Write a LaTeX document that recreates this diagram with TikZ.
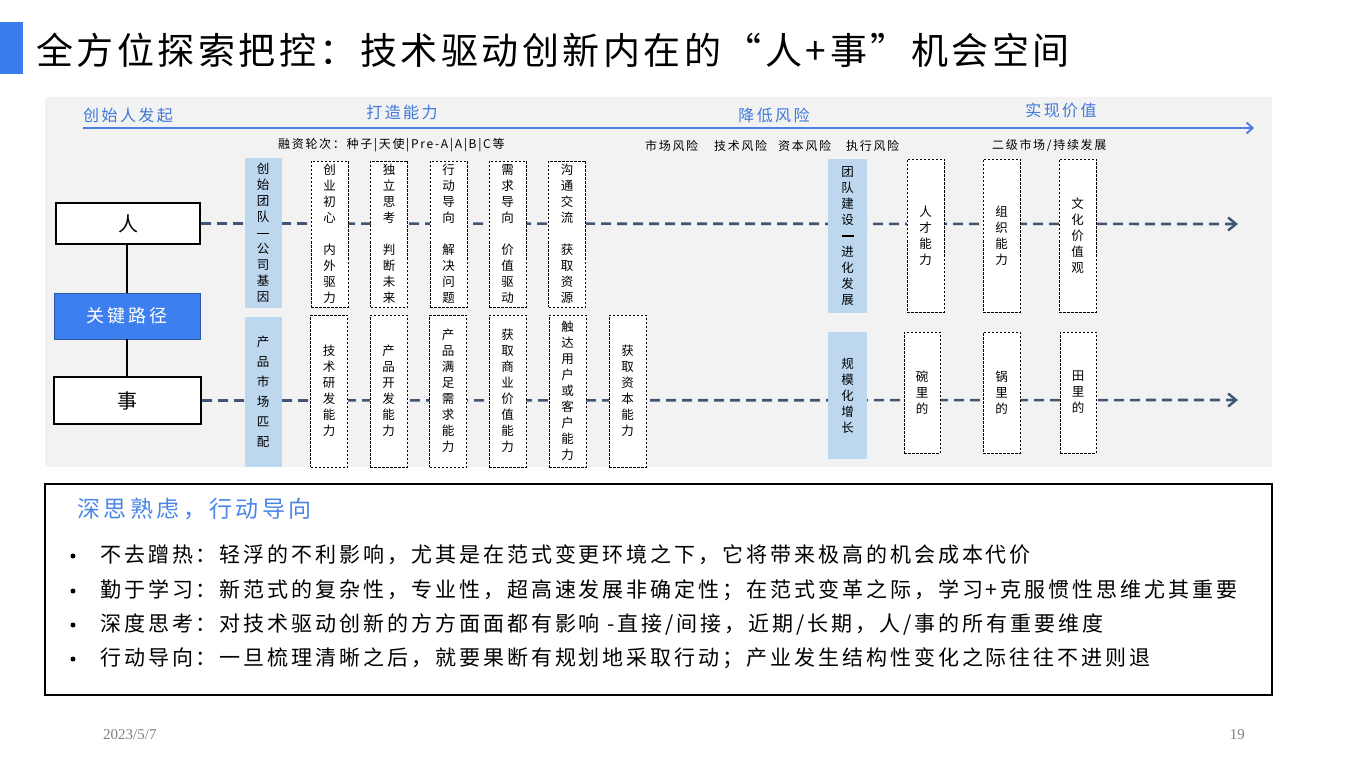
\documentclass[tikz,border=0pt]{standalone}
\usepackage{fontspec}
\setmainfont{Noto Sans CJK SC}
\newfontfamily\cjk{Noto Sans CJK SC}
\newfontfamily\cjkt[LetterSpace=9.5]{Noto Sans CJK SC}
\newfontfamily\cjka[LetterSpace=14]{Noto Sans CJK SC}
\newfontfamily\cjkb[LetterSpace=15]{Noto Sans CJK SC}
\newfontfamily\cjkc[LetterSpace=14]{Noto Sans CJK SC}
\newfontfamily\footfont{Liberation Serif}
\usetikzlibrary{arrows.meta}
\definecolor{barblue}{HTML}{3B7DED}
\definecolor{keyblue}{HTML}{3D7FEF}
\definecolor{tlblue}{HTML}{4A7FE0}
\definecolor{lblblue}{HTML}{3E78DA}
\definecolor{panelgray}{HTML}{F2F2F2}
\definecolor{colblue}{HTML}{BDD7EE}
\definecolor{dashcol}{HTML}{3F5573}
\definecolor{subblue}{HTML}{4A86E8}
\definecolor{footgray}{HTML}{808080}
\newcommand{\mydashbar}{\rule[3.5pt]{12pt}{1.6pt}}
\tikzset{
  vtext/.style={font=\cjk\fontsize{12.5}{16}\selectfont, align=center, inner sep=0pt},
  colbox/.style={vtext, fill=colblue, draw=none, minimum width=37pt},
  dbox/.style={vtext, fill=white, draw=black, line width=0.8pt, dash pattern=on 2.5pt off 1.5pt, minimum width=37pt},
  mainbox/.style={draw=black, line width=2.4pt, fill=white, inner sep=0pt, font=\cjk\fontsize{20}{22}\selectfont},
  dline/.style={draw=dashcol, line width=2.6pt, dash pattern=on 10pt off 6pt, -{Straight Barb[length=8pt,width=13pt,line width=2.4pt]}},
  tline/.style={draw=tlblue, line width=2.4pt, -{Straight Barb[length=6pt,width=11pt,line width=2pt]}},
  tlabel/.style={text=lblblue, font=\cjkb\fontsize{16}{18}\selectfont, inner sep=0pt},
  slabel/.style={font=\cjka\fontsize{12}{14}\selectfont, inner sep=0pt, anchor=west},
  btext/.style={font=\cjkc\fontsize{21}{24}\selectfont, inner sep=0pt, anchor=west},
  bul/.style={circle, fill=black, inner sep=0pt, minimum size=5pt},
}
\begin{document}
\begin{tikzpicture}[x=1pt,y=-1pt]
\useasboundingbox (0,0) rectangle (1348,759);
\fill[white] (0,0) rectangle (1348,759);
% title
\fill[barblue] (0,22) rectangle (23,74);
\node[anchor=west, inner sep=0pt, font=\cjkt\fontsize{37}{40}\selectfont] (title) at (36,50) {全方位探索把控：技术驱动创新内在的“人+事”机会空间};
% panel
\fill[panelgray] (45,97) rectangle (1272,467);
% timeline
\coordinate (tl0) at (83,128);
\coordinate (tl1) at (1254,128);
\draw[tline] (tl0) -- (tl1);
\node[tlabel, anchor=west] (l1) at (83,115) {创始人发起};
\node[tlabel] (l2) at (402,112) {打造能力};
\node[tlabel] (l3) at (774,115) {降低风险};
\node[tlabel] (l4) at (1061,110) {实现价值};
% small labels
\node[slabel] (s1) at (278,145) {融资轮次：种子|天使|Pre-A|A|B|C等};
\node[slabel] (s2) at (645,146) {市场风险};
\node[slabel] (s3) at (714,146) {技术风险};
\node[slabel] (s4) at (778,146) {资本风险};
\node[slabel] (s5) at (846,146) {执行风险};
\node[slabel] (s6) at (992,145) {二级市场/持续发展};
% left boxes
\node[mainbox, minimum width=144pt, minimum height=41pt] (ren) at (128,223.5) {人};
\node[draw=keyblue!70!black, line width=0.6pt, fill=keyblue, text=white, inner sep=0pt, minimum width=146pt, minimum height=46pt, font=\cjkb\fontsize{18}{20}\selectfont] (key) at (127,316) {关键路径};
\node[mainbox, minimum width=147pt, minimum height=47pt] (shi) at (127.5,400.5) {事};
\draw[line width=2.4pt] (key.north) -- (key.north |- ren.south);
\draw[line width=2.4pt] (key.south) -- (key.south |- shi.north);
% dashed flow lines
\coordinate (renend) at (1238,224);
\coordinate (shiend) at (1238,400);
\draw[dline] (ren.east) -- (renend);
\draw[dline] (shi.east) -- (shiend);
% left columns
\node[colbox, minimum height=150pt] (ca) at (263,233) {创\\始\\团\\队\\\mydashbar\\公\\司\\基\\因};
\node[colbox, minimum height=150pt, font=\cjk\fontsize{12.5}{20}\selectfont] (cb) at (263,392) {产\\品\\市\\场\\匹\\配};
% top row dashed boxes
\node[dbox, minimum height=146pt] (t1) at (329.5,234) {创\\业\\初\\心\\[16pt]内\\外\\驱\\力};
\node[dbox, minimum height=146pt] (t2) at (389,234) {独\\立\\思\\考\\[16pt]判\\断\\未\\来};
\node[dbox, minimum height=146pt] (t3) at (448.5,234) {行\\动\\导\\向\\[16pt]解\\决\\问\\题};
\node[dbox, minimum height=146pt] (t4) at (507.5,234) {需\\求\\导\\向\\[16pt]价\\值\\驱\\动};
\node[dbox, minimum height=146pt] (t5) at (567,234) {沟\\通\\交\\流\\[16pt]获\\取\\资\\源};
% bottom row dashed boxes
\node[dbox, minimum height=152pt] (b1) at (329,391) {技\\术\\研\\发\\能\\力};
\node[dbox, minimum height=152pt] (b2) at (388.5,391) {产\\品\\开\\发\\能\\力};
\node[dbox, minimum height=152pt] (b3) at (448,391) {产\\品\\满\\足\\需\\求\\能\\力};
\node[dbox, minimum height=152pt] (b4) at (507.5,391) {获\\取\\商\\业\\价\\值\\能\\力};
\node[dbox, minimum height=152pt] (b5) at (567.5,391) {触\\达\\用\\户\\或\\客\\户\\能\\力};
\node[dbox, minimum height=152pt] (b6) at (627.5,391) {获\\取\\资\\本\\能\\力};
% right columns
\node[colbox, minimum width=39pt, minimum height=154pt] (cr1) at (847.5,236) {团\\队\\建\\设\\\mydashbar\\进\\化\\发\\展};
\node[colbox, minimum width=39pt, minimum height=127pt] (cr2) at (847.5,395.5) {规\\模\\化\\增\\长};
\node[dbox, minimum height=153pt] (r1) at (925.5,235.5) {人\\才\\能\\力};
\node[dbox, minimum height=153pt] (r2) at (1001.5,235.5) {组\\织\\能\\力};
\node[dbox, minimum height=153pt] (r3) at (1077.5,235.5) {文\\化\\价\\值\\观};
\node[dbox, minimum width=36pt, minimum height=121pt] (q1) at (922,392.5) {碗\\里\\的};
\node[dbox, minimum height=121pt] (q2) at (1001.5,392.5) {锅\\里\\的};
\node[dbox, minimum width=36pt, minimum height=121pt] (q3) at (1078,392.5) {田\\里\\的};
% text box
\node[draw=black, line width=1.4pt, fill=white, inner sep=0pt, minimum width=1227pt, minimum height=211pt] (tbox) at (658.5,589.5) {};
\node[anchor=west, inner sep=0pt, text=subblue, font=\cjkb\fontsize{23}{26}\selectfont] (sub) at (77,509) {深思熟虑，行动导向};
\node[bul] (d1) at (73,556) {};
\node[bul] (d2) at (73,591) {};
\node[bul] (d3) at (73,625) {};
\node[bul] (d4) at (73,659) {};
\node[btext] (p1) at (100,555) {不去蹭热：轻浮的不利影响，尤其是在范式变更环境之下，它将带来极高的机会成本代价};
\node[btext] (p2) at (100,590) {勤于学习：新范式的复杂性，专业性，超高速发展非确定性；在范式变革之际，学习+克服惯性思维尤其重要};
\node[btext] (p3) at (100,624) {深度思考：对技术驱动创新的方方面面都有影响 -直接/间接，近期/长期，人/事的所有重要维度};
\node[btext] (p4) at (100,658) {行动导向：一旦梳理清晰之后，就要果断有规划地采取行动；产业发生结构性变化之际往往不进则退};
% footer
\node[anchor=west, inner sep=0pt, text=footgray, font=\footfont\fontsize{15}{17}\selectfont] (date) at (103,735) {2023/5/7};
\node[anchor=east, inner sep=0pt, text=footgray, font=\footfont\fontsize{15}{17}\selectfont] (page) at (1245,735) {19};
\end{tikzpicture}
\end{document}
